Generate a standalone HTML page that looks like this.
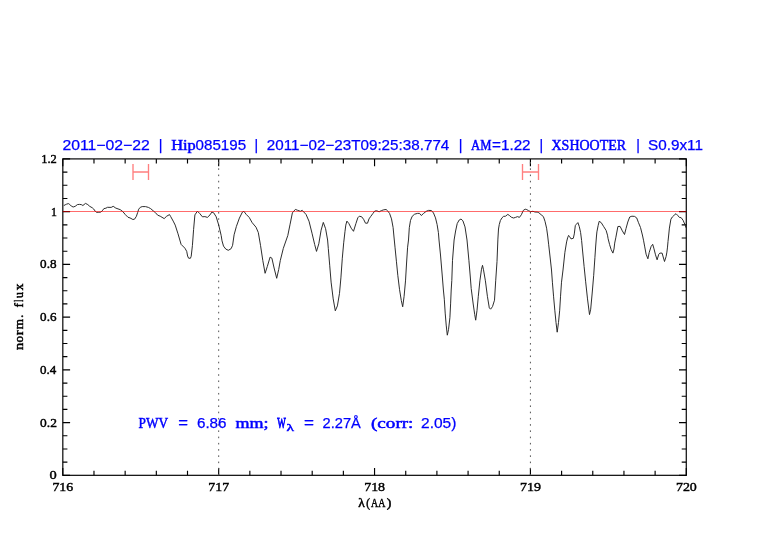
<!DOCTYPE html>
<html><head><meta charset="utf-8"><style>
html,body{margin:0;padding:0;background:#fff;width:782px;height:542px;overflow:hidden}
svg{display:block;will-change:transform}
</style></head><body>
<svg width="782" height="542" viewBox="0 0 782 542">
<rect x="62.8" y="158.9" width="623.50" height="316.45" fill="none" stroke="#1a1a1a" stroke-width="1.3"/>
<path d="M62.80 475.35v-7.3M62.80 158.9v7.3M93.98 475.35v-4.6M93.98 158.9v4.6M125.15 475.35v-4.6M125.15 158.9v4.6M156.33 475.35v-4.6M156.33 158.9v4.6M187.50 475.35v-4.6M187.50 158.9v4.6M218.68 475.35v-7.3M218.68 158.9v7.3M249.85 475.35v-4.6M249.85 158.9v4.6M281.02 475.35v-4.6M281.02 158.9v4.6M312.20 475.35v-4.6M312.20 158.9v4.6M343.37 475.35v-4.6M343.37 158.9v4.6M374.55 475.35v-7.3M374.55 158.9v7.3M405.73 475.35v-4.6M405.73 158.9v4.6M436.90 475.35v-4.6M436.90 158.9v4.6M468.08 475.35v-4.6M468.08 158.9v4.6M499.25 475.35v-4.6M499.25 158.9v4.6M530.42 475.35v-7.3M530.42 158.9v7.3M561.60 475.35v-4.6M561.60 158.9v4.6M592.77 475.35v-4.6M592.77 158.9v4.6M623.95 475.35v-4.6M623.95 158.9v4.6M655.12 475.35v-4.6M655.12 158.9v4.6M686.30 475.35v-7.3M686.30 158.9v7.3M62.8 475.35h7.3M686.3 475.35h-7.3M62.8 462.16h4.6M686.3 462.16h-4.6M62.8 448.98h4.6M686.3 448.98h-4.6M62.8 435.79h4.6M686.3 435.79h-4.6M62.8 422.61h7.3M686.3 422.61h-7.3M62.8 409.42h4.6M686.3 409.42h-4.6M62.8 396.24h4.6M686.3 396.24h-4.6M62.8 383.05h4.6M686.3 383.05h-4.6M62.8 369.87h7.3M686.3 369.87h-7.3M62.8 356.68h4.6M686.3 356.68h-4.6M62.8 343.50h4.6M686.3 343.50h-4.6M62.8 330.31h4.6M686.3 330.31h-4.6M62.8 317.12h7.3M686.3 317.12h-7.3M62.8 303.94h4.6M686.3 303.94h-4.6M62.8 290.75h4.6M686.3 290.75h-4.6M62.8 277.57h4.6M686.3 277.57h-4.6M62.8 264.38h7.3M686.3 264.38h-7.3M62.8 251.20h4.6M686.3 251.20h-4.6M62.8 238.01h4.6M686.3 238.01h-4.6M62.8 224.83h4.6M686.3 224.83h-4.6M62.8 211.64h7.3M686.3 211.64h-7.3M62.8 198.46h4.6M686.3 198.46h-4.6M62.8 185.27h4.6M686.3 185.27h-4.6M62.8 172.09h4.6M686.3 172.09h-4.6M62.8 158.90h7.3M686.3 158.90h-7.3" stroke="#000" stroke-width="1.15" fill="none"/>
<line x1="218.68" y1="158.9" x2="218.68" y2="475.35" stroke="#555" stroke-width="1" stroke-dasharray="1.6 4.64" stroke-dashoffset="-9.4"/>
<line x1="530.42" y1="158.9" x2="530.42" y2="475.35" stroke="#555" stroke-width="1" stroke-dasharray="1.6 4.64" stroke-dashoffset="-9.4"/>
<path d="M133.0 164v16M148.5 164v16M133.0 172h15.5" stroke="#ff7f7f" stroke-width="1.35" fill="none"/>
<path d="M522.5 164v16M538.5 164v16M522.5 172h16.0" stroke="#ff7f7f" stroke-width="1.35" fill="none"/>
<polyline points="63.8,205.6 64.0,205.5 65.2,204.8 66.5,204.2 68.4,203.6 69.7,204.4 71.3,206.1 73.2,207.0 75.2,206.3 77.4,204.6 79.4,204.4 81.3,204.6 82.9,205.5 85.5,203.4 87.8,204.6 89.7,206.3 92.3,207.8 93.6,208.9 95.2,211.2 96.5,212.3 98.8,212.3 100.7,212.1 102.3,210.8 103.9,208.6 105.9,208.2 107.5,207.3 111.2,207.4 113.2,206.3 115.8,208.1 120.3,209.7 122.9,211.7 125.4,214.7 128.0,217.3 130.0,217.9 132.9,219.5 134.5,219.2 136.4,216.3 137.7,212.4 138.7,209.2 140.3,207.3 142.2,206.6 145.5,206.6 148.4,207.4 150.6,208.6 153.2,210.8 155.3,212.5 157.7,215.2 160.2,216.2 164.2,218.6 166.7,216.2 169.5,214.6 170.7,216.6 173.2,221.1 175.2,225.1 178.0,233.8 181.1,244.4 184.9,248.2 186.7,251.3 187.6,256.0 188.6,258.2 190.4,258.3 191.2,256.3 192.4,245.7 193.6,229.4 194.9,214.9 197.4,211.2 199.9,213.7 202.4,216.8 204.9,216.6 207.4,217.4 210.0,214.9 211.8,212.1 213.7,212.8 216.2,216.8 218.7,225.0 221.2,235.6 222.0,240.8 223.5,246.1 225.8,249.1 228.3,250.3 231.1,248.7 232.6,245.3 234.1,234.8 236.4,226.4 239.4,218.1 242.4,212.1 243.9,211.3 246.2,214.4 249.2,217.4 252.2,222.7 256.0,227.2 258.3,232.5 260.5,245.3 262.8,260.5 265.1,273.3 267.3,266.5 270.1,257.1 271.9,258.2 274.1,268.0 276.7,278.3 278.7,269.5 280.3,260.5 283.3,248.4 287.8,235.5 290.1,224.2 292.4,212.8 295.4,209.4 297.6,210.3 300.4,211.3 302.2,210.3 306.0,214.4 309.0,221.2 312.0,233.2 314.7,244.6 316.5,251.4 318.8,243.8 321.1,230.2 323.3,222.4 325.6,228.7 327.6,240.0 328.3,248.4 329.7,265.2 331.1,282.1 333.2,298.9 335.3,310.8 337.4,305.9 339.5,293.3 340.9,277.9 342.3,258.2 343.7,242.8 345.0,231.3 345.8,225.1 346.9,221.1 348.9,223.6 351.2,228.2 353.5,231.3 355.9,223.6 357.8,217.8 359.3,216.2 361.7,216.8 363.6,219.3 365.5,223.2 367.5,223.2 369.0,218.9 370.6,216.6 372.9,213.5 374.8,211.0 376.8,210.8 379.1,211.8 381.4,210.6 383.8,209.8 386.1,209.5 387.6,210.8 389.6,213.5 391.5,218.9 393.1,227.5 393.9,236.0 395.0,247.2 396.4,261.2 397.8,275.3 399.5,289.3 401.3,300.5 402.7,306.8 404.1,296.3 405.5,280.9 406.5,264.0 407.6,247.2 408.5,240.0 409.3,227.7 410.5,220.4 412.2,216.3 414.6,214.2 417.5,213.4 419.5,213.4 421.3,215.5 423.6,213.4 426.1,211.4 428.5,210.4 431.4,210.5 433.5,213.0 435.5,217.9 437.1,224.5 438.4,232.6 439.0,240.0 440.5,255.0 442.2,275.0 443.4,290.0 444.3,299.2 445.2,313.1 446.2,325.1 447.3,335.2 448.5,329.7 449.9,317.7 450.6,303.9 451.2,290.0 451.8,280.5 452.5,260.3 454.1,240.0 455.6,231.0 457.2,223.6 459.2,220.0 461.0,219.0 462.9,220.8 465.0,226.9 467.0,240.0 468.9,260.3 470.3,277.0 471.2,288.5 473.2,304.0 474.7,314.4 475.7,320.2 477.0,310.5 478.3,296.3 479.9,280.8 481.5,269.2 482.5,265.3 483.5,269.8 485.4,280.8 487.4,296.3 489.3,307.9 490.6,309.2 492.5,306.6 494.5,300.2 495.7,280.8 497.0,261.5 497.9,239.1 498.5,229.0 499.3,224.4 500.4,220.5 502.0,217.8 503.5,216.4 505.5,216.2 507.8,214.4 509.3,215.4 511.3,217.2 513.6,218.0 515.5,217.4 517.5,216.6 519.4,217.4 521.4,214.7 523.3,210.4 525.2,209.2 526.8,209.6 528.7,210.8 530.7,211.6 533.0,211.3 534.9,212.0 537.2,212.1 538.8,212.7 541.1,214.7 543.4,216.6 545.0,221.3 546.6,228.2 547.7,236.0 548.7,244.8 550.2,258.0 551.5,270.0 552.4,282.2 553.6,296.8 554.8,310.2 556.0,322.4 557.2,332.2 558.5,322.4 559.7,310.2 560.5,296.8 561.5,282.2 563.0,270.0 564.9,252.3 566.6,241.9 567.6,237.9 568.6,235.4 569.6,236.6 571.0,238.9 573.3,238.3 574.3,233.9 575.3,225.6 576.3,224.3 577.9,222.6 579.3,226.6 580.6,232.6 581.6,240.4 582.6,251.0 584.1,266.5 585.6,281.2 587.5,298.9 589.5,314.6 590.7,309.2 592.2,293.0 593.7,275.3 594.9,257.7 595.7,246.0 596.4,237.0 596.9,231.9 598.2,225.3 599.2,221.3 601.2,222.6 603.5,226.3 606.1,230.4 607.5,235.2 608.1,238.7 609.6,244.6 611.1,249.4 612.9,253.1 614.0,249.0 614.7,243.1 615.9,237.2 617.9,226.5 620.1,226.4 622.3,230.8 624.5,234.5 626.0,228.6 627.8,222.0 629.7,217.0 631.9,216.2 634.5,216.4 636.7,217.9 638.5,222.7 640.5,227.5 642.4,235.0 643.5,240.2 644.6,246.1 646.1,254.2 647.9,258.8 649.2,252.5 651.1,246.5 652.7,244.3 653.8,248.1 655.5,254.8 657.1,259.8 658.8,254.2 659.9,253.1 662.1,253.1 663.2,257.0 664.5,261.5 666.1,256.5 666.9,252.1 667.5,247.1 668.0,241.5 668.6,236.0 669.4,228.1 670.9,219.2 672.3,217.0 674.2,215.2 676.0,213.7 677.5,215.2 679.4,217.4 681.2,217.7 683.1,220.3 684.2,222.9 685.3,225.1 685.9,227.7" fill="none" stroke="#222" stroke-width="0.95" stroke-linejoin="round"/>
<line x1="62.8" y1="211.5" x2="686.3" y2="211.5" stroke="#f00" stroke-opacity="0.58" stroke-width="1"/>
<text x="49.45" y="479.40" textLength="7.21" lengthAdjust="spacingAndGlyphs" style="font-family:&quot;Liberation Serif&quot;,serif;font-weight:normal;stroke:#000;stroke-width:0.45;font-size:13px;fill:#000">0</text>
<text x="40.08" y="426.66" textLength="16.79" lengthAdjust="spacingAndGlyphs" style="font-family:&quot;Liberation Serif&quot;,serif;font-weight:normal;stroke:#000;stroke-width:0.45;font-size:13px;fill:#000">0.2</text>
<text x="40.10" y="373.92" textLength="16.25" lengthAdjust="spacingAndGlyphs" style="font-family:&quot;Liberation Serif&quot;,serif;font-weight:normal;stroke:#000;stroke-width:0.45;font-size:13px;fill:#000">0.4</text>
<text x="40.10" y="321.18" textLength="16.36" lengthAdjust="spacingAndGlyphs" style="font-family:&quot;Liberation Serif&quot;,serif;font-weight:normal;stroke:#000;stroke-width:0.45;font-size:13px;fill:#000">0.6</text>
<text x="40.09" y="268.43" textLength="16.46" lengthAdjust="spacingAndGlyphs" style="font-family:&quot;Liberation Serif&quot;,serif;font-weight:normal;stroke:#000;stroke-width:0.45;font-size:13px;fill:#000">0.8</text>
<text x="50.90" y="215.69" textLength="5.93" lengthAdjust="spacingAndGlyphs" style="font-family:&quot;Liberation Serif&quot;,serif;font-weight:normal;stroke:#000;stroke-width:0.45;font-size:13px;fill:#000">1</text>
<text x="41.25" y="162.95" textLength="15.57" lengthAdjust="spacingAndGlyphs" style="font-family:&quot;Liberation Serif&quot;,serif;font-weight:normal;stroke:#000;stroke-width:0.45;font-size:13px;fill:#000">1.2</text>
<text x="52.44" y="490.55" textLength="20.79" lengthAdjust="spacingAndGlyphs" style="font-family:&quot;Liberation Serif&quot;,serif;font-weight:normal;stroke:#000;stroke-width:0.45;font-size:13px;fill:#000">716</text>
<text x="208.32" y="490.55" textLength="20.79" lengthAdjust="spacingAndGlyphs" style="font-family:&quot;Liberation Serif&quot;,serif;font-weight:normal;stroke:#000;stroke-width:0.45;font-size:13px;fill:#000">717</text>
<text x="364.19" y="490.55" textLength="20.90" lengthAdjust="spacingAndGlyphs" style="font-family:&quot;Liberation Serif&quot;,serif;font-weight:normal;stroke:#000;stroke-width:0.45;font-size:13px;fill:#000">718</text>
<text x="520.06" y="490.55" textLength="20.90" lengthAdjust="spacingAndGlyphs" style="font-family:&quot;Liberation Serif&quot;,serif;font-weight:normal;stroke:#000;stroke-width:0.45;font-size:13px;fill:#000">719</text>
<text x="675.94" y="490.55" textLength="20.90" lengthAdjust="spacingAndGlyphs" style="font-family:&quot;Liberation Serif&quot;,serif;font-weight:normal;stroke:#000;stroke-width:0.45;font-size:13px;fill:#000">720</text>
<text x="358.15" y="506.60" textLength="6.54" lengthAdjust="spacingAndGlyphs" style="font-family:&quot;Liberation Serif&quot;,serif;font-weight:normal;stroke:#000;stroke-width:0.45;font-size:11.5px;fill:#000">&#955;</text>
<text x="366.22" y="506.60" textLength="3.70" lengthAdjust="spacingAndGlyphs" style="font-family:&quot;Liberation Serif&quot;,serif;font-weight:normal;stroke:#000;stroke-width:0.45;font-size:11.5px;fill:#000">(</text>
<text x="371.01" y="506.60" textLength="14.28" lengthAdjust="spacingAndGlyphs" style="font-family:&quot;Liberation Serif&quot;,serif;font-weight:normal;stroke:#000;stroke-width:0.45;font-size:11.5px;fill:#000">AA</text>
<text x="386.82" y="506.60" textLength="4.62" lengthAdjust="spacingAndGlyphs" style="font-family:&quot;Liberation Serif&quot;,serif;font-weight:normal;stroke:#000;stroke-width:0.45;font-size:11.5px;fill:#000">)</text>
<g transform="rotate(-90)"><text x="-350.07" y="23.00" textLength="7.16" lengthAdjust="spacingAndGlyphs" style="font-family:&quot;Liberation Serif&quot;,serif;font-weight:normal;stroke:#000;stroke-width:0.45;font-size:11.5px;fill:#000">n</text><text x="-342.46" y="23.00" textLength="6.57" lengthAdjust="spacingAndGlyphs" style="font-family:&quot;Liberation Serif&quot;,serif;font-weight:normal;stroke:#000;stroke-width:0.45;font-size:11.5px;fill:#000">o</text><text x="-335.26" y="23.00" textLength="4.92" lengthAdjust="spacingAndGlyphs" style="font-family:&quot;Liberation Serif&quot;,serif;font-weight:normal;stroke:#000;stroke-width:0.45;font-size:11.5px;fill:#000">r</text><text x="-329.33" y="23.00" textLength="10.19" lengthAdjust="spacingAndGlyphs" style="font-family:&quot;Liberation Serif&quot;,serif;font-weight:normal;stroke:#000;stroke-width:0.45;font-size:11.5px;fill:#000">m</text><text x="-317.66" y="23.00" textLength="3.10" lengthAdjust="spacingAndGlyphs" style="font-family:&quot;Liberation Serif&quot;,serif;font-weight:normal;stroke:#000;stroke-width:0.45;font-size:11.5px;fill:#000">.</text><text x="-307.46" y="23.00" textLength="4.39" lengthAdjust="spacingAndGlyphs" style="font-family:&quot;Liberation Serif&quot;,serif;font-weight:normal;stroke:#000;stroke-width:0.45;font-size:11.5px;fill:#000">f</text><text x="-301.82" y="23.00" textLength="1.94" lengthAdjust="spacingAndGlyphs" style="font-family:&quot;Liberation Serif&quot;,serif;font-weight:normal;stroke:#000;stroke-width:0.45;font-size:11.5px;fill:#000">l</text><text x="-298.11" y="23.00" textLength="5.96" lengthAdjust="spacingAndGlyphs" style="font-family:&quot;Liberation Serif&quot;,serif;font-weight:normal;stroke:#000;stroke-width:0.45;font-size:11.5px;fill:#000">u</text><text x="-290.31" y="23.00" textLength="6.59" lengthAdjust="spacingAndGlyphs" style="font-family:&quot;Liberation Serif&quot;,serif;font-weight:normal;stroke:#000;stroke-width:0.45;font-size:11.5px;fill:#000">x</text></g>
<text x="62.41" y="150.40" textLength="87.28" lengthAdjust="spacingAndGlyphs" style="font-family:&quot;Liberation Sans&quot;,sans-serif;font-weight:normal;stroke:#0000ff;stroke-width:0.25;font-size:14px;fill:#0000ff">2011&#8722;02&#8722;22</text>
<text x="158.70" y="150.40" textLength="3.64" lengthAdjust="spacingAndGlyphs" style="font-family:&quot;Liberation Sans&quot;,sans-serif;font-weight:normal;stroke:#0000ff;stroke-width:0.25;font-size:14px;fill:#0000ff">|</text>
<text x="171.16" y="150.40" textLength="24.59" lengthAdjust="spacingAndGlyphs" style="font-family:&quot;Liberation Serif&quot;,serif;font-weight:normal;stroke:#0000ff;stroke-width:0.5;font-size:15px;fill:#0000ff">Hip</text>
<text x="195.56" y="150.40" textLength="50.51" lengthAdjust="spacingAndGlyphs" style="font-family:&quot;Liberation Sans&quot;,sans-serif;font-weight:normal;stroke:#0000ff;stroke-width:0.25;font-size:14px;fill:#0000ff">085195</text>
<text x="254.60" y="150.40" textLength="3.64" lengthAdjust="spacingAndGlyphs" style="font-family:&quot;Liberation Sans&quot;,sans-serif;font-weight:normal;stroke:#0000ff;stroke-width:0.25;font-size:14px;fill:#0000ff">|</text>
<text x="266.84" y="150.40" textLength="182.49" lengthAdjust="spacingAndGlyphs" style="font-family:&quot;Liberation Sans&quot;,sans-serif;font-weight:normal;stroke:#0000ff;stroke-width:0.25;font-size:14px;fill:#0000ff">2011&#8722;02&#8722;23T09:25:38.774</text>
<text x="458.85" y="150.40" textLength="3.64" lengthAdjust="spacingAndGlyphs" style="font-family:&quot;Liberation Sans&quot;,sans-serif;font-weight:normal;stroke:#0000ff;stroke-width:0.25;font-size:14px;fill:#0000ff">|</text>
<text x="471.02" y="150.40" textLength="20.38" lengthAdjust="spacingAndGlyphs" style="font-family:&quot;Liberation Serif&quot;,serif;font-weight:normal;stroke:#0000ff;stroke-width:0.5;font-size:15px;fill:#0000ff">AM</text>
<text x="492.04" y="150.40" textLength="38.55" lengthAdjust="spacingAndGlyphs" style="font-family:&quot;Liberation Sans&quot;,sans-serif;font-weight:normal;stroke:#0000ff;stroke-width:0.25;font-size:14px;fill:#0000ff">=1.22</text>
<text x="539.60" y="150.40" textLength="3.64" lengthAdjust="spacingAndGlyphs" style="font-family:&quot;Liberation Sans&quot;,sans-serif;font-weight:normal;stroke:#0000ff;stroke-width:0.25;font-size:14px;fill:#0000ff">|</text>
<text x="551.47" y="150.40" textLength="74.73" lengthAdjust="spacingAndGlyphs" style="font-family:&quot;Liberation Serif&quot;,serif;font-weight:normal;stroke:#0000ff;stroke-width:0.5;font-size:15px;fill:#0000ff">XSHOOTER</text>
<text x="636.20" y="150.40" textLength="3.64" lengthAdjust="spacingAndGlyphs" style="font-family:&quot;Liberation Sans&quot;,sans-serif;font-weight:normal;stroke:#0000ff;stroke-width:0.25;font-size:14px;fill:#0000ff">|</text>
<text x="648.04" y="150.40" textLength="54.85" lengthAdjust="spacingAndGlyphs" style="font-family:&quot;Liberation Sans&quot;,sans-serif;font-weight:normal;stroke:#0000ff;stroke-width:0.25;font-size:14px;fill:#0000ff">S0.9x11</text>
<text x="138.55" y="427.80" textLength="29.47" lengthAdjust="spacingAndGlyphs" style="font-family:&quot;Liberation Serif&quot;,serif;font-weight:normal;stroke:#0000ff;stroke-width:0.5;font-size:15px;fill:#0000ff">PWV</text>
<text x="178.17" y="427.80" textLength="9.74" lengthAdjust="spacingAndGlyphs" style="font-family:&quot;Liberation Sans&quot;,sans-serif;font-weight:normal;stroke:#0000ff;stroke-width:0.25;font-size:14px;fill:#0000ff">=</text>
<text x="196.94" y="427.80" textLength="29.56" lengthAdjust="spacingAndGlyphs" style="font-family:&quot;Liberation Sans&quot;,sans-serif;font-weight:normal;stroke:#0000ff;stroke-width:0.25;font-size:14px;fill:#0000ff">6.86</text>
<text x="235.54" y="427.80" textLength="33.11" lengthAdjust="spacingAndGlyphs" style="font-family:&quot;Liberation Serif&quot;,serif;font-weight:normal;stroke:#0000ff;stroke-width:0.5;font-size:15px;fill:#0000ff">mm;</text>
<text x="277.20" y="427.80" textLength="8.53" lengthAdjust="spacingAndGlyphs" style="font-family:&quot;Liberation Serif&quot;,serif;font-weight:normal;stroke:#0000ff;stroke-width:0.95;font-size:15px;fill:#0000ff">W</text>
<text x="304.05" y="427.80" textLength="9.98" lengthAdjust="spacingAndGlyphs" style="font-family:&quot;Liberation Sans&quot;,sans-serif;font-weight:normal;stroke:#0000ff;stroke-width:0.25;font-size:14px;fill:#0000ff">=</text>
<text x="322.57" y="427.80" textLength="38.32" lengthAdjust="spacingAndGlyphs" style="font-family:&quot;Liberation Sans&quot;,sans-serif;font-weight:normal;stroke:#0000ff;stroke-width:0.25;font-size:14px;fill:#0000ff">2.27&#197;</text>
<text x="371.01" y="427.80" textLength="42.43" lengthAdjust="spacingAndGlyphs" style="font-family:&quot;Liberation Serif&quot;,serif;font-weight:normal;stroke:#0000ff;stroke-width:0.5;font-size:15px;fill:#0000ff">(corr:</text>
<text x="421.02" y="427.80" textLength="35.39" lengthAdjust="spacingAndGlyphs" style="font-family:&quot;Liberation Sans&quot;,sans-serif;font-weight:normal;stroke:#0000ff;stroke-width:0.25;font-size:14px;fill:#0000ff">2.05)</text>
<text x="286.58" y="431.10" textLength="7.47" lengthAdjust="spacingAndGlyphs" style="font-family:&quot;Liberation Serif&quot;,serif;font-weight:normal;stroke:#0000ff;stroke-width:0.5;font-size:11px;fill:#0000ff">&#955;</text>
</svg>
</body></html>
